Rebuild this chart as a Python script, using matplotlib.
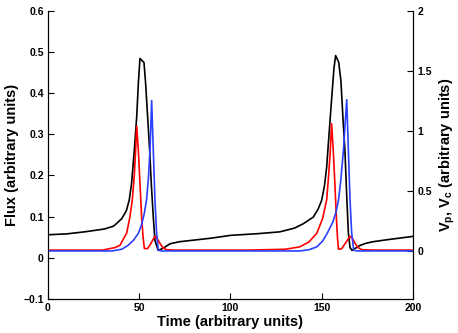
import matplotlib
matplotlib.use('Agg')
import matplotlib.pyplot as plt

plt.rcParams['font.family'] = 'Liberation Sans'
plt.rcParams['font.weight'] = 'bold'
plt.rcParams['mathtext.fontset'] = 'custom'
plt.rcParams['mathtext.bf'] = 'Liberation Sans:bold'
plt.rcParams['mathtext.rm'] = 'Liberation Sans:bold'

# flux (left axis, black)
t_flux = [0, 10, 20, 31, 36, 40.4, 43, 44.5, 45.8, 47.3, 48.6, 49.5, 50.4, 52.6, 53.5, 54.6, 55.7,
          56.6, 57.7, 58.6, 60.4, 62, 64.1, 66.8, 72, 80, 90, 100,
          115, 127, 135, 140, 145.4, 148, 150, 151.5, 152.7, 154, 155.5, 156.7, 157.6, 159.3,
          160.5, 161.6, 162.7, 163.7, 164.6, 165.5, 166.6, 168, 171, 174, 178, 186, 200]
flux = [0.056, 0.058, 0.063, 0.070, 0.077, 0.095, 0.115, 0.140, 0.180, 0.261, 0.342, 0.423, 0.484, 0.474, 0.423, 0.342, 0.261,
        0.180, 0.099, 0.042, 0.018, 0.021, 0.026, 0.034, 0.039, 0.043, 0.048, 0.0545,
        0.0586, 0.063, 0.072, 0.083, 0.099, 0.118, 0.140, 0.175, 0.220, 0.300, 0.390, 0.460, 0.491, 0.475,
        0.430, 0.342, 0.261, 0.150, 0.060, 0.025, 0.018, 0.022, 0.030, 0.035, 0.039, 0.044, 0.052]

# V_p (right axis, red)
t_vp = [0, 30, 34, 37, 39.5, 41.3, 43.1, 44.9, 46.2, 47.3, 48.0, 48.6, 49.5, 50.4, 51.3, 52.1,
        52.8, 54.6, 56.5, 58.6, 60, 61.4, 63, 65, 70,
        110, 130, 138, 143, 147.3, 150.5, 152.7, 153.8, 154.7, 155.4, 156.3, 157.2, 158.0, 158.6,
        159.2, 161, 163, 165.5, 167, 168.3, 170, 172, 180, 200]
vp = [0.007, 0.007, 0.020, 0.029, 0.048, 0.099, 0.147, 0.285, 0.425, 0.631, 0.837, 1.039, 0.840, 0.562, 0.285, 0.116,
      0.020, 0.020, 0.065, 0.123, 0.099, 0.062, 0.027, 0.010, 0.007,
      0.007, 0.014, 0.034, 0.075, 0.147, 0.271, 0.425, 0.631, 0.840, 1.060, 0.840, 0.562, 0.285, 0.116,
      0.014, 0.020, 0.065, 0.123, 0.099, 0.062, 0.027, 0.010, 0.007, 0.007]

# V_c (right axis, blue)
t_vc = [0, 35, 40.4, 44, 47, 49.5, 51.3, 52.8, 54, 55, 55.9, 56.8, 57.7, 58.6, 59.5, 60.4, 62,
        100, 138, 143, 147.3, 150.5, 153, 156, 157.8, 159.2, 160.5, 161.9, 163.7, 164.6, 165.5,
        166.4, 167.5, 169, 200]
vc = [0.0, 0.0, 0.014, 0.048, 0.092, 0.147, 0.219, 0.315, 0.425, 0.597, 0.840, 1.252, 0.840, 0.425, 0.151, 0.007, 0.0,
      0.0, 0.0, 0.010, 0.034, 0.082, 0.147, 0.237, 0.322, 0.425, 0.597, 0.840, 1.259, 0.837, 0.425,
      0.151, 0.007, 0.0, 0.0]

fig = plt.figure(figsize=(4.58, 3.33), dpi=100)
ax = fig.add_axes([0.1048, 0.1021, 0.7969, 0.8659])
ax2 = ax.twinx()

ax.plot(t_flux, flux, color='k', lw=1.2)
ax2.plot(t_vp, vp, color='#ff0000', lw=1.2)
ax2.plot(t_vc, vc, color='#2a40ff', lw=1.2)

ax.set_xlim(0, 200)
ax.set_ylim(-0.1, 0.6)
ax2.set_ylim(-0.4, 2)
ax.set_xticks([0, 50, 100, 150, 200])
ax.set_yticks([-0.1, 0, 0.1, 0.2, 0.3, 0.4, 0.5, 0.6])
ax.set_yticklabels(['\u22120.1', '0', '0.1', '0.2', '0.3', '0.4', '0.5', '0.6'])
ax2.set_yticks([0, 0.5, 1, 1.5, 2])
ax2.set_yticklabels(['0', '0.5', '1', '1.5', '2'])

for a in (ax, ax2):
    a.spines['top'].set_visible(False)
    a.tick_params(direction='in', length=4, width=0.8, labelsize=7.5, pad=3)
ax.tick_params(top=False, right=False)
ax2.tick_params(left=False, top=False, bottom=False)

ax.set_xlabel('Time (arbitrary units)', fontsize=10.5, fontweight='bold', labelpad=1)
ax.set_ylabel('Flux (arbitrary units)', fontsize=10.5, fontweight='bold', labelpad=3)
ax2.set_ylabel(r'V$_\mathbf{p}$, V$_\mathbf{c}$ (arbitrary units)', fontsize=10.5,
               fontweight='bold', labelpad=4)

fig.savefig('out.png', dpi=100)
